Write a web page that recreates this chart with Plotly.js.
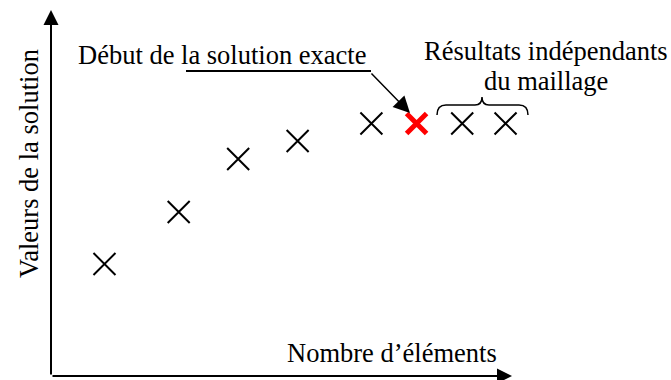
<!DOCTYPE html>
<html><head><meta charset="utf-8">
<script src="https://cdn.plot.ly/plotly-3.0.1.min.js"></script>
<style>html,body{margin:0;padding:0;background:#fff}</style>
</head><body><div id="chart" style="width:671px;height:380px"></div>
<script>
// ---- data ----
const elements = [11.6, 27.7, 40.6, 53.5, 69.5, 79.3, 89.2, 98.6];
const solution = [30.6, 44.8, 59.3, 64.2, 69.0, 69.0, 69.0, 69.0];
const exactIndex = 5;
const xTitle = "Nombre d’éléments";
const yTitle = "Valeurs de la solution";
const exactLabel = "Début de la solution exacte";
const meshLabel = ["Résultats indépendants", "du maillage"];

// ---- layout helpers (pixel -> paper) ----
const L = 51, T = 10, W = 461, H = 366;
const X = p => (p - L) / W;
const Y = p => (T + H - p) / H;
const FONT = "Liberation Serif, Times New Roman, serif";
const FS = 26.5;

const colors = elements.map((_, i) => i === exactIndex ? '#ff0000' : '#000000');
const widths = elements.map((_, i) => i === exactIndex ? 5 : 2);
const sizes = elements.map((_, i) => i === exactIndex ? 20 : 22);

const trace = {
  x: elements, y: solution, type: 'scatter', mode: 'markers', cliponaxis: false,
  marker: { symbol: 'x-thin', size: sizes, color: colors, opacity: 1, line: { color: colors, width: widths } },
  hoverinfo: 'none', showlegend: false
};

const bracePath = 'M' + X(437) + ',' + Y(115) +
  ' Q' + X(437) + ',' + Y(105) + ' ' + X(446) + ',' + Y(105) +
  ' L' + X(475) + ',' + Y(105) +
  ' Q' + X(482) + ',' + Y(105) + ' ' + X(482) + ',' + Y(97) +
  ' Q' + X(482) + ',' + Y(105) + ' ' + X(489) + ',' + Y(105) +
  ' L' + X(519) + ',' + Y(105) +
  ' Q' + X(528) + ',' + Y(105) + ' ' + X(528) + ',' + Y(115);

const layout = {
  width: 671, height: 380,
  margin: { l: L, r: 671 - L - W, t: T, b: 380 - T - H, pad: 0 },
  paper_bgcolor: '#fff', plot_bgcolor: '#fff',
  xaxis: { range: [0, 100], visible: false },
  yaxis: { range: [0, 100], visible: false },
  font: { family: FONT, size: FS, color: '#000' },
  shapes: [
    { type: 'line', xref: 'paper', yref: 'paper', x0: X(186), x1: X(371), y0: Y(71), y1: Y(71), line: { color: '#000', width: 2 } },
    { type: 'path', xref: 'paper', yref: 'paper', path: bracePath, line: { color: '#000', width: 1.5 } }
  ],
  annotations: [
    // axes with arrows
    { xref: 'paper', yref: 'paper', x: 0, y: 1, ax: 0, ay: H, text: '', showarrow: true, arrowhead: 2, arrowsize: 1.5, arrowwidth: 2, arrowcolor: '#000' },
    { xref: 'paper', yref: 'paper', x: 1, y: 0, ax: -W, ay: 0, text: '', showarrow: true, arrowhead: 2, arrowsize: 1.5, arrowwidth: 2, arrowcolor: '#000' },
    // titles
    { xref: 'paper', yref: 'paper', x: X(29), y: Y(164), text: yTitle, textangle: -90, showarrow: false, xanchor: 'center', yanchor: 'middle', font: { size: FS } },
    { xref: 'paper', yref: 'paper', x: X(392), y: Y(353), text: xTitle, showarrow: false, xanchor: 'center', yanchor: 'middle', font: { size: FS } },
    // labels
    { xref: 'paper', yref: 'paper', x: X(76), y: Y(55), text: exactLabel, showarrow: false, xanchor: 'left', yanchor: 'middle', font: { size: FS } },
    { xref: 'paper', yref: 'paper', x: X(410), y: Y(113), ax: -40, ay: -41, text: '', showarrow: true, arrowhead: 2, arrowsize: 2.2, arrowwidth: 1.5, arrowcolor: '#000' },
    { xref: 'paper', yref: 'paper', x: X(545.5), y: Y(51), text: meshLabel[0], showarrow: false, xanchor: 'center', yanchor: 'middle', font: { size: FS } },
    { xref: 'paper', yref: 'paper', x: X(546), y: Y(81), text: meshLabel[1], showarrow: false, xanchor: 'center', yanchor: 'middle', font: { size: FS } }
  ]
};

Plotly.newPlot('chart', [trace], layout, { staticPlot: true, displayModeBar: false });
</script></body></html>
